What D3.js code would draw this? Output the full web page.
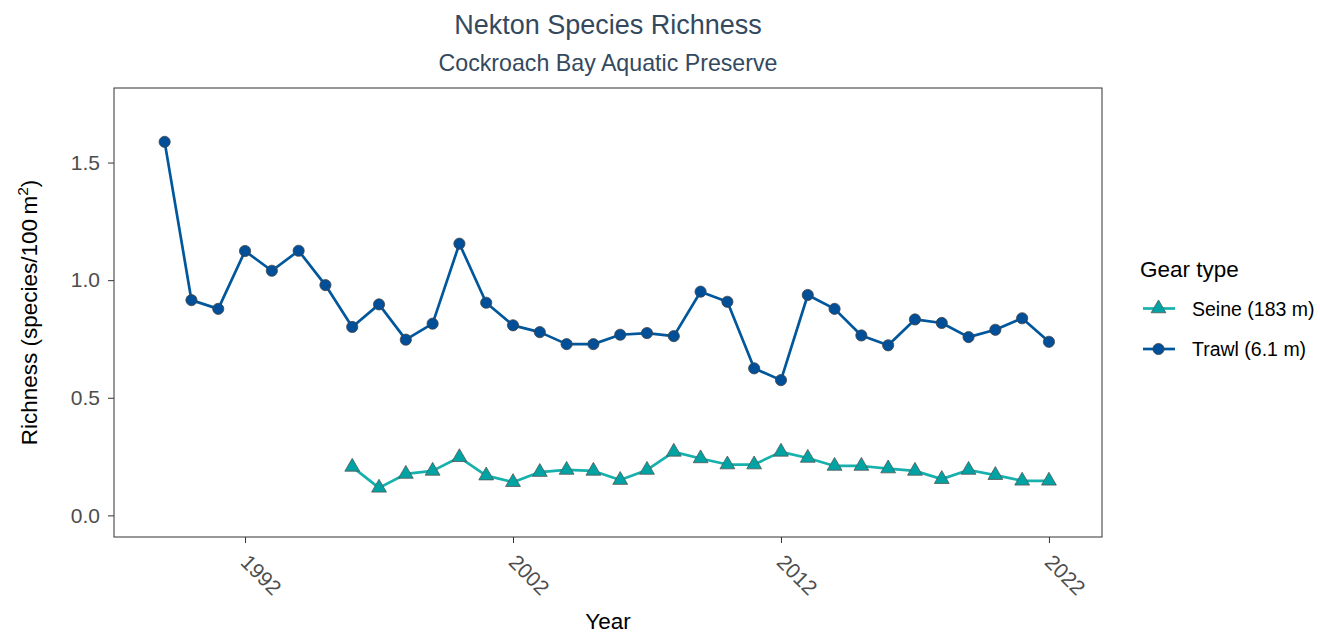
<!DOCTYPE html>
<html>
<head>
<meta charset="utf-8">
<script src="https://cdn.jsdelivr.net/npm/d3@7"></script>
<style>
  body { margin: 0; background: #fff; }
  text { font-family: "Liberation Sans", Arial, sans-serif; }
</style>
</head>
<body>
<div id="chart"></div>
<script>
'use strict';

// ---- data ----
var trawlYears = d3.range(1989, 2023);
var trawlVals = [1.588, 0.915, 0.878, 1.124, 1.040, 1.125, 0.979, 0.801, 0.897, 0.747, 0.815,
  1.155, 0.904, 0.808, 0.779, 0.728, 0.728, 0.768, 0.775, 0.762, 0.951, 0.908, 0.625,
  0.575, 0.937, 0.878, 0.765, 0.723, 0.833, 0.818, 0.758, 0.789, 0.838, 0.738];

var seineYears = d3.range(1996, 2023);
var seineVals = [0.206, 0.117, 0.176, 0.189, 0.247, 0.169, 0.141, 0.184, 0.193, 0.189,
  0.150, 0.193, 0.270, 0.242, 0.216, 0.216, 0.270, 0.244, 0.210, 0.210, 0.199, 0.189,
  0.154, 0.193, 0.171, 0.147, 0.147];

var xTicks = [1992, 2002, 2012, 2022];
var yTicks = [0.0, 0.5, 1.0, 1.5];
var gearNames = ["Seine (183 m)", "Trawl (6.1 m)"];

var W = 1320, H = 635;
var margin = { top: 88, right: 218, bottom: 98, left: 114 };
var width = W - margin.left - margin.right,
  height = H - margin.top - margin.bottom;

var x = d3.scaleLinear().domain([1987.11, 2023.98]).range([0, width]);
var y = d3.scaleLinear().domain([-0.092, 1.817]).range([height, 0]);

var seineLine = "#16b1ad", seineFill = "#00a3a3";
var trawlLine = "#00579c", trawlFill = "#004f98";

var svg = d3.select("#chart").append("svg")
  .attr("width", W)
  .attr("height", H);

svg.append("rect").attr("width", W).attr("height", H).attr("fill", "#fff");

// titles
svg.append("text")
  .attr("x", margin.left + width / 2)
  .attr("y", 34)
  .attr("text-anchor", "middle")
  .attr("fill", "#34495e")
  .style("font-size", "27px")
  .text("Nekton Species Richness");

svg.append("text")
  .attr("x", margin.left + width / 2)
  .attr("y", 71)
  .attr("text-anchor", "middle")
  .attr("fill", "#34495e")
  .style("font-size", "23.2px")
  .text("Cockroach Bay Aquatic Preserve");

var g = svg.append("g")
  .attr("transform", "translate(" + margin.left + "," + margin.top + ")");

// axes
var yAxis = d3.axisLeft(y).tickValues(yTicks).tickSize(6).tickPadding(8)
  .tickFormat(d3.format(".1f"));
var yg = g.append("g").call(yAxis);
yg.select(".domain").remove();
yg.selectAll(".tick line").attr("stroke", "#333");
yg.selectAll(".tick text")
  .attr("fill", "#4d4d4d")
  .style("font-size", "21px")
  .style("font-family", "Liberation Sans, Arial, sans-serif");

var xAxis = d3.axisBottom(x).tickValues(xTicks).tickSize(6).tickFormat(d3.format("d"));
var xg = g.append("g")
  .attr("transform", "translate(0," + height + ")")
  .call(xAxis);
xg.select(".domain").remove();
xg.selectAll(".tick line").attr("stroke", "#333");
xg.selectAll(".tick text")
  .attr("fill", "#4d4d4d")
  .style("font-size", "21px")
  .style("font-family", "Liberation Sans, Arial, sans-serif")
  .attr("text-anchor", "start")
  .attr("dy", null)
  .attr("y", 0)
  .attr("transform", "translate(-6,26.5) rotate(45)");

// panel border
g.append("rect")
  .attr("width", width)
  .attr("height", height)
  .attr("fill", "none")
  .attr("stroke", "#333")
  .attr("stroke-width", 1);

// axis titles
svg.append("text")
  .attr("x", margin.left + width / 2)
  .attr("y", 629)
  .attr("text-anchor", "middle")
  .style("font-size", "22.5px")
  .text("Year");

var yt = svg.append("text")
  .attr("transform", "translate(37," + (margin.top + height / 2) + ") rotate(-90)")
  .attr("text-anchor", "middle")
  .style("font-size", "22.5px");
yt.append("tspan").text("Richness (species/100\u2009m");
yt.append("tspan").attr("dy", -9).style("font-size", "15.5px").text("2");
yt.append("tspan").attr("dy", 9).text(")");

// series
var trawl = trawlYears.map(function(d, i) { return { year: d, value: trawlVals[i] }; });
var seine = seineYears.map(function(d, i) { return { year: d, value: seineVals[i] }; });

var line = d3.line()
  .x(function(d) { return x(d.year); })
  .y(function(d) { return y(d.value); });

g.append("path").datum(seine)
  .attr("fill", "none").attr("stroke", seineLine).attr("stroke-width", 2.7)
  .attr("stroke-linejoin", "round")
  .attr("d", line);

g.append("path").datum(trawl)
  .attr("fill", "none").attr("stroke", trawlLine).attr("stroke-width", 2.7)
  .attr("stroke-linejoin", "round")
  .attr("d", line);

var tri = d3.symbol().type(d3.symbolTriangle).size(95);

g.selectAll(".seine-pt")
  .data(seine)
  .enter().append("path")
  .attr("class", "seine-pt")
  .attr("d", tri)
  .attr("transform", function(d) { return "translate(" + x(d.year) + "," + y(d.value) + ")"; })
  .attr("fill", seineFill)
  .attr("stroke", "#555")
  .attr("stroke-width", 0.8);

g.selectAll(".trawl-pt")
  .data(trawl)
  .enter().append("circle")
  .attr("class", "trawl-pt")
  .attr("cx", function(d) { return x(d.year); })
  .attr("cy", function(d) { return y(d.value); })
  .attr("r", 5.6)
  .attr("fill", trawlFill)
  .attr("stroke", "#444")
  .attr("stroke-width", 0.8);

// legend
var lg = svg.append("g").attr("transform", "translate(1140,0)");
lg.append("text")
  .attr("x", 0).attr("y", 277)
  .style("font-size", "22.5px")
  .text("Gear type");

var keys = [
  { name: gearNames[0], line: seineLine, fill: seineFill, shape: "tri" },
  { name: gearNames[1], line: trawlLine, fill: trawlFill, shape: "circle" }
];
var item = lg.selectAll(".key")
  .data(keys)
  .enter().append("g")
  .attr("class", "key")
  .attr("transform", function(d, i) { return "translate(0," + (308.5 + i * 40.5) + ")"; });

item.append("line")
  .attr("x1", 3).attr("x2", 35).attr("y1", 0).attr("y2", 0)
  .attr("stroke", function(d) { return d.line; })
  .attr("stroke-width", 2.7);

item.append("path")
  .attr("d", function(d) {
    return d.shape === "tri" ? tri() : d3.symbol().type(d3.symbolCircle).size(Math.PI * 5.6 * 5.6)();
  })
  .attr("transform", "translate(18.5,0)")
  .attr("fill", function(d) { return d.fill; })
  .attr("stroke", function(d) { return d.shape === "tri" ? "#555" : "#444"; })
  .attr("stroke-width", 0.8);

item.append("text")
  .attr("x", 52).attr("y", 7.3)
  .style("font-size", "19.5px")
  .text(function(d) { return d.name; });
</script>
</body>
</html>
